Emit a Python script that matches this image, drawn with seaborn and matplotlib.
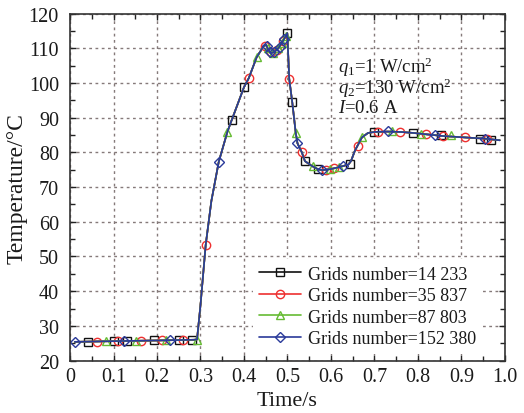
import numpy as np
import pandas as pd
import seaborn as sns
import matplotlib
matplotlib.use("Agg")
import matplotlib.pyplot as plt
from matplotlib.lines import Line2D
from matplotlib.ticker import MultipleLocator

# ---------------- data ----------------
series_names = ["Grids number=14 233", "Grids number=35 837",
                "Grids number=87 803", "Grids number=152 380"]
series_colors = ["#111111", "#ee3030", "#66bb33", "#2a3a9a"]
series_markers = ["s", "o", "^", "D"]

# shared temperature trace (all grids practically coincide)
curve_time = [0.011, 0.10, 0.20, 0.285, 0.292, 0.300, 0.312, 0.325, 0.342, 0.362,
              0.372, 0.400, 0.411, 0.429, 0.445, 0.451, 0.456, 0.462, 0.470, 0.480,
              0.490, 0.4995, 0.504, 0.511, 0.519, 0.523, 0.533, 0.540, 0.556, 0.571,
              0.580, 0.600, 0.620, 0.640, 0.646, 0.655, 0.663, 0.671, 0.685, 0.700,
              0.730, 0.760, 0.790, 0.820, 0.860, 0.910, 0.950, 0.988]
curve_temp = [25.4, 25.6, 25.8, 26.0, 26.1, 36.0, 53.4, 66.0, 77.3, 86.0,
              89.4, 98.8, 101.4, 107.4, 110.6, 111.0, 109.5, 108.6, 109.0, 110.2,
              112.2, 114.4, 101.2, 94.4, 85.6, 82.6, 80.0, 77.5, 76.1, 75.1,
              74.9, 75.2, 75.8, 76.5, 77.5, 80.5, 82.4, 84.3, 85.6, 85.9,
              86.0, 85.9, 85.6, 85.2, 84.7, 84.3, 84.0, 83.5]

# marker samples per grid
t_14233 = [0.042, 0.102, 0.132, 0.192, 0.251, 0.280, 0.372, 0.400, 0.4995, 0.511,
           0.540, 0.571, 0.644, 0.700, 0.789, 0.852, 0.943, 0.969]
T_14233 = [25.5, 25.6, 25.6, 25.8, 25.9, 26.0, 89.4, 98.8, 114.4, 94.4,
           77.5, 75.1, 76.6, 85.9, 85.6, 84.9, 84.0, 83.7]

t_35837 = [0.061, 0.111, 0.163, 0.211, 0.259, 0.312, 0.411, 0.448, 0.462, 0.476,
           0.490, 0.504, 0.533, 0.589, 0.607, 0.661, 0.709, 0.759, 0.818, 0.858,
           0.908, 0.959]
T_35837 = [25.5, 25.6, 25.7, 25.8, 25.9, 53.4, 101.4, 110.8, 108.8, 109.6,
           112.0, 101.2, 80.0, 75.0, 75.4, 81.8, 85.9, 86.0, 85.2, 84.7,
           84.3, 83.8]

t_87803 = [0.083, 0.152, 0.220, 0.291, 0.362, 0.429, 0.455, 0.466, 0.478, 0.488,
           0.497, 0.519, 0.558, 0.598, 0.618, 0.671, 0.740, 0.808, 0.877]
T_87803 = [25.6, 25.7, 25.8, 26.0, 86.0, 107.4, 110.0, 108.7, 110.0, 111.6,
           113.6, 85.6, 76.2, 75.2, 75.8, 84.3, 86.2, 85.4, 85.0]

t_152380 = [0.011, 0.123, 0.230, 0.342, 0.452, 0.459, 0.470, 0.482, 0.493, 0.523,
            0.579, 0.628, 0.730, 0.839, 0.954]
T_152380 = [25.4, 25.6, 25.8, 77.3, 110.6, 109.0, 108.9, 110.4, 112.6, 82.6,
            75.0, 76.0, 86.1, 85.0, 84.0]

marker_times = [t_14233, t_35837, t_87803, t_152380]
marker_temps = [T_14233, T_35837, T_87803, T_152380]

x_ticks = [0, 0.1, 0.2, 0.3, 0.4, 0.5, 0.6, 0.7, 0.8, 0.9, 1.0]
x_tick_labels = ["0", "0.1", "0.2", "0.3", "0.4", "0.5", "0.6", "0.7", "0.8", "0.9", "1.0"]
y_ticks = [20, 30, 40, 50, 60, 70, 80, 90, 100, 110, 120]

# ---------------- style ----------------
sns.set_theme(style="ticks")
plt.rcParams["font.family"] = ["Liberation Serif", "DejaVu Serif"]
plt.rcParams["mathtext.fontset"] = "custom"
plt.rcParams["mathtext.rm"] = "Liberation Serif"
plt.rcParams["mathtext.it"] = "Liberation Serif:italic"
plt.rcParams["mathtext.default"] = "rm"

TXT = "#1a1a1a"

fig = plt.figure(figsize=(5.24, 4.14), dpi=100)
ax = fig.add_axes([0.1336, 0.1266, 0.8301, 0.8381])

curve_df = pd.DataFrame({"time": curve_time, "temp": curve_temp})
for name, col, mk, mt, mT in zip(series_names, series_colors, series_markers,
                                 marker_times, marker_temps):
    sns.lineplot(data=curve_df, x="time", y="temp", ax=ax, color=col, lw=1.2,
                 sort=False, estimator=None)
    mdf = pd.DataFrame({"time": mt, "temp": mT})
    sns.lineplot(data=mdf, x="time", y="temp", ax=ax, color=col, linestyle="",
                 marker=mk, markersize=6 if mk != "D" else 5.2,
                 markerfacecolor="none", markeredgecolor=col, markeredgewidth=1.0,
                 sort=False, estimator=None)

ax.set_xlim(0, 1.0)
ax.set_ylim(20, 120)
ax.set_xticks(x_ticks)
ax.set_xticklabels(x_tick_labels)
ax.set_yticks(y_ticks)
ax.xaxis.set_minor_locator(MultipleLocator(0.05))
ax.yaxis.set_minor_locator(MultipleLocator(5))
ax.tick_params(which="both", direction="in", top=True, right=True,
               labelsize=14.5, colors="#222222", labelcolor=TXT, width=1.0)
ax.tick_params(which="major", length=4.5)
ax.tick_params(which="minor", length=3.5)
ax.tick_params(axis="x", which="major", pad=4.5)
ax.tick_params(axis="y", which="major", pad=8)
for s in ax.spines.values():
    s.set_linewidth(1.2)
    s.set_color("#333333")
    s.set_visible(True)

ax.grid(True, which="major", linestyle=(0, (2, 2.5)), color="#857a7a", lw=1.0)
ax.set_axisbelow(True)

ax.set_xlabel("Time/s", fontsize=16, color=TXT, labelpad=4)
ax.set_ylabel("Temperature/°C", fontsize=17, color=TXT, labelpad=1)

ax.text(0.616, 0.849, r"$\it{q}_1$=1 W/cm$^2$", transform=ax.transAxes,
        fontsize=13.5, color=TXT, va="center")
ax.text(0.616, 0.788, r"$\it{q}_2$=130 W/cm$^2$", transform=ax.transAxes,
        fontsize=13.5, color=TXT, va="center")
ax.text(0.616, 0.728, r"$\it{I}$=0.6 A", transform=ax.transAxes,
        fontsize=13.5, color=TXT, va="center")

handles = [Line2D([0], [0], color=c, lw=1.2, marker=m,
                  markersize=6 if m != "D" else 5.2,
                  markerfacecolor="none", markeredgecolor=c)
           for c, m in zip(series_colors, series_markers)]
leg = ax.legend(handles, series_names, loc="lower left",
                bbox_to_anchor=(0.42, 0.02), frameon=True,
                fontsize=13, handlelength=2.3, handletextpad=0.4,
                labelspacing=0.25, borderpad=0.35, borderaxespad=0.0)
leg.get_frame().set_facecolor("white")
leg.get_frame().set_edgecolor("none")
leg.get_frame().set_alpha(1.0)
leg.set_zorder(5)
for t in leg.get_texts():
    t.set_color(TXT)

fig.savefig("out.png", dpi=100)
